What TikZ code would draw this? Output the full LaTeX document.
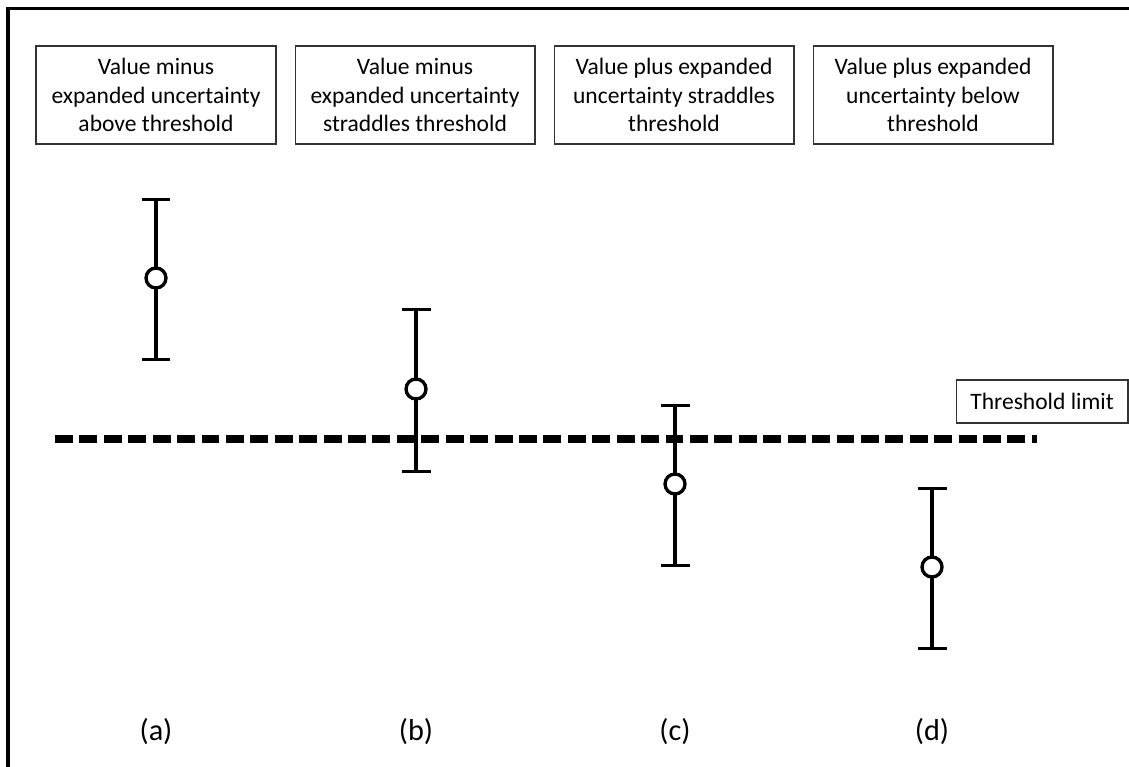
\documentclass[tikz,border=0pt]{standalone}
\usepackage{fontspec}
\setmainfont{Carlito}
\usetikzlibrary{arrows.meta}
\tikzset{
  casebox/.style={draw=black!80, line width=0.6pt, minimum width=4.8cm, minimum height=1.96cm,
    inner sep=0pt, align=center, font=\fontsize{13.4}{16}\selectfont},
  limitbox/.style={draw=black!80, line width=0.6pt, minimum width=3.44cm, minimum height=0.86cm,
    inner sep=0pt, font=\fontsize{13.4}{16}\selectfont},
  errbar/.style={line width=1.9pt, {Bar[width=0.58cm]}-{Bar[width=0.58cm]}},
  value/.style={circle, draw, line width=1.9pt, fill=white, minimum size=0.4cm, inner sep=0pt},
  caselabel/.style={font=\fontsize{17.2}{20}\selectfont}
}

\begin{document}
\begin{tikzpicture}[x=0.02cm, y=-0.02cm]
\useasboundingbox (0,0) rectangle (1129,767);

% Frame (cut off on the right and at the bottom)
\draw[line width=2pt] (8,767) -- (8,8.5) -- (1129,8.5);

% Boxes on top
\node[casebox] (ca) at (156,95) {Value minus\\expanded uncertainty\\above threshold};
\node[casebox] (cb) at (415,95) {Value minus\\expanded uncertainty\\straddles threshold};
\node[casebox] (cc) at (674,95) {Value plus expanded\\uncertainty straddles\\threshold};
\node[casebox] (cd) at (933,95) {Value plus expanded\\uncertainty below\\threshold};

% Threshold
\coordinate (thl) at (55,439);
\coordinate (thr) at (1037,439);
\draw[line width=4pt, dash pattern=on 10.2pt off 3.7pt] (thl) -- (thr);
\node[limitbox] (lim) at (1042,401.5) {Threshold limit};

% Error bars
\coordinate (ta) at (156,198);
\coordinate (ba) at (156,361);
\draw[errbar] (ta) -- (ba);
\node[value] (va) at (156,278) {};

\coordinate (tb) at (416,308);
\coordinate (bb) at (416,473);
\draw[errbar] (tb) -- (bb);
\node[value] (vb) at (416,389) {};

\coordinate (tc) at (675,404);
\coordinate (bc) at (675,567);
\draw[errbar] (tc) -- (bc);
\node[value] (vc) at (675,484) {};

\coordinate (td) at (932,487);
\coordinate (bd) at (932,650);
\draw[errbar] (td) -- (bd);
\node[value] (vd) at (932,567) {};

% Labels
\node[caselabel] (la) at (156,732) {(a)};
\node[caselabel] (lb) at (416,732) {(b)};
\node[caselabel] (lc) at (675,732) {(c)};
\node[caselabel] (ld) at (932,732) {(d)};

\end{tikzpicture}
\end{document}
